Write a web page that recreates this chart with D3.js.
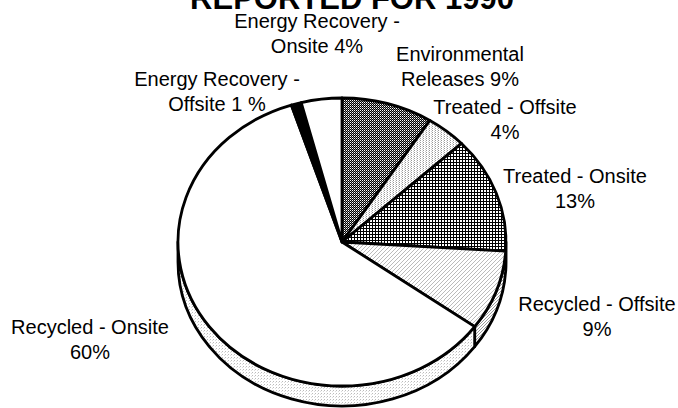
<!DOCTYPE html>
<html><head><meta charset="utf-8">
<script src="https://cdn.jsdelivr.net/npm/d3@7"></script>
<style>body{margin:0;background:#fff}svg{display:block}text{font-family:"Liberation Sans",Arial,sans-serif;fill:#000}</style>
</head><body>
<script>
const categories = ["Environmental Releases","Treated - Offsite","Treated - Onsite","Recycled - Offsite","Recycled - Onsite","Energy Recovery - Offsite","Energy Recovery - Onsite"];
const values = [9,4,13,9,60,1,4];
const labelLines = [["Environmental","Releases 9%"],["Treated - Offsite","4%"],["Treated - Onsite","13%"],["Recycled - Offsite","9%"],["Recycled - Onsite","60%"],["Energy Recovery -","Offsite 1 %"],["Energy Recovery -","Onsite 4%"]];
const title = "REPORTED FOR 1990";

const W=678,H=408;
const cx=342, cy=242, rx=164, ry=144, depth=20;
const labelPos=[[460,61],[505,114],[575,183],[597,311],[90,334],[217,86],[317,28]];
const topFill=["url(#pEnv)","url(#pDotsL)","url(#pGrid)","url(#pDiag)","#fff","#000","#fff"];
const wallFill=["url(#pEnv)","url(#pDotsL)","url(#pGrid)","url(#pDiag2)","url(#pDots)","#000","url(#pDots)"];

const svg=d3.select("body").append("svg").attr("width",W).attr("height",H);
const defs=svg.append("defs");
function pat(id,size,bg,pix){
  const p=defs.append("pattern").attr("id",id).attr("patternUnits","userSpaceOnUse").attr("width",size[0]).attr("height",size[1]);
  p.append("rect").attr("width",size[0]).attr("height",size[1]).attr("fill",bg);
  pix.forEach(d=>p.append("rect").attr("x",d[0]).attr("y",d[1]).attr("width",d[2]||1).attr("height",d[3]||1).attr("fill",d[4]||"#000").attr("shape-rendering","crispEdges"));
}
pat("pEnv",[2,2],"#000",[[0,0,1,1,"#fff"],[1,1,1,1,"#888"]]);
pat("pDotsL",[3,2],"#fff",[[0,0,1,1,"#999"],[2,1,1,1,"#ccc"]]);
pat("pGrid",[3,3],"#000",[[1,1,2,2,"#fff"]]);
pat("pDiag",[4,4],"#fff",[[0,3,1,1,"#bbb"],[1,2,1,1,"#bbb"],[2,1,1,1,"#bbb"],[3,0,1,1,"#bbb"]]);
pat("pDiag2",[3,3],"#fff",[[0,2,1,1,"#999"],[1,1,1,1,"#999"],[2,0,1,1,"#999"]]);
pat("pDots",[3,3],"#fff",[[0,0,1,1,"#bbb"],[2,1,1,1,"#ddd"]]);

const pie=d3.pie().sort(null).value(d=>d)(values);
const ang=d3.scaleLinear().domain([0,2*Math.PI]).range([0,2*Math.PI]);
const P=(a,dy=0)=>[cx+rx*Math.sin(ang(a)), cy-ry*Math.cos(ang(a))+dy];

const g=svg.append("g").attr("stroke","#000").attr("stroke-width",2.8).attr("stroke-linejoin","round");
pie.forEach((s,i)=>{
  const a0=Math.max(s.startAngle,Math.PI/2), a1=Math.min(s.endAngle,3*Math.PI/2);
  if(a1<=a0) return;
  const large=(a1-a0)>Math.PI?1:0;
  const p0=P(a0),p1=P(a1),q1=P(a1,depth),q0=P(a0,depth);
  const d=`M${p0}A${rx},${ry} 0 ${large} 1 ${p1}L${q1}A${rx},${ry} 0 ${large} 0 ${q0}Z`;
  g.append("path").attr("d",d).attr("fill",wallFill[i]);
});
pie.forEach((s,i)=>{
  const large=(s.endAngle-s.startAngle)>Math.PI?1:0;
  const p0=P(s.startAngle),p1=P(s.endAngle);
  const d=`M${cx},${cy}L${p0}A${rx},${ry} 0 ${large} 1 ${p1}Z`;
  g.append("path").attr("d",d).attr("fill",topFill[i]);
});

const lg=svg.append("g").attr("font-size",20).attr("text-anchor","middle");
labelLines.forEach((ls,i)=>{
  const t=lg.append("text").attr("x",labelPos[i][0]).attr("y",labelPos[i][1]);
  ls.forEach((l,j)=>t.append("tspan").attr("x",labelPos[i][0]).attr("dy",j?25:0).text(l));
});
svg.append("text").attr("x",352).attr("y",9).attr("text-anchor","middle").attr("font-size",31).attr("font-weight","bold").text(title);
</script>
</body></html>
